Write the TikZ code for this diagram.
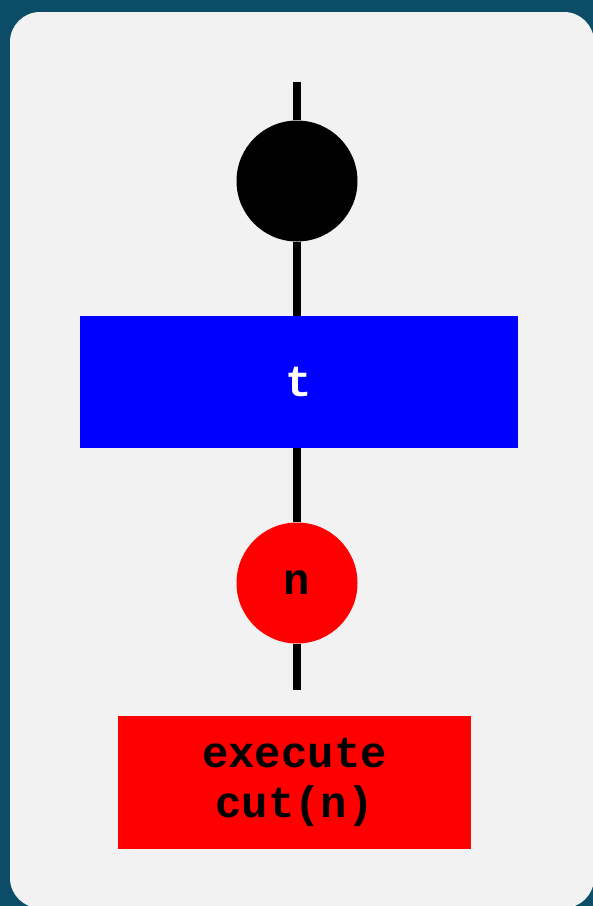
\documentclass[tikz,border=0pt]{standalone}
\usepackage{fontspec}
\setmonofont{Liberation Mono}
\definecolor{bgdark}{HTML}{0B4C66}
\definecolor{panel}{HTML}{F2F2F2}
\definecolor{pureblue}{HTML}{0000FF}
\definecolor{purered}{HTML}{FF0000}
\begin{document}
\begin{tikzpicture}[x=1pt,y=-1pt,
  conn/.style={line width=8.5pt, black},
  dot/.style={circle, inner sep=0pt, minimum size=121pt},
  boxnode/.style={rectangle, inner sep=0pt, font=\ttfamily\bfseries\fontsize{44}{50}\selectfont, align=center}]
\useasboundingbox (0,0) rectangle (593,906);
\clip (0,0) rectangle (593,906);
\fill[bgdark] (0,0) rectangle (593,906);
\fill[panel, rounded corners=30pt] (10,12) rectangle (594,908);
\coordinate (top) at (297,82);
\coordinate (bot) at (297,690);
\node[dot, fill=black] (bc) at (297,181) {};
\node[boxnode, fill=pureblue, text=white, minimum width=438pt, minimum height=132pt] (tb) at (299,382) {t};
\node[dot, fill=purered, font=\ttfamily\bfseries\fontsize{44}{50}\selectfont] (rc) at (297,583) {n};
\node[boxnode, fill=purered, text=black, minimum width=353pt, minimum height=133pt] (ex) at (294.5,782.5) {execute\\cut(n)};
\draw[conn] (top) -- (bc.north);
\draw[conn] (bc.south) -- (bc.south |- tb.north);
\draw[conn] (rc.north |- tb.south) -- (rc.north);
\draw[conn] (rc.south) -- (bot);
\end{tikzpicture}
\end{document}
